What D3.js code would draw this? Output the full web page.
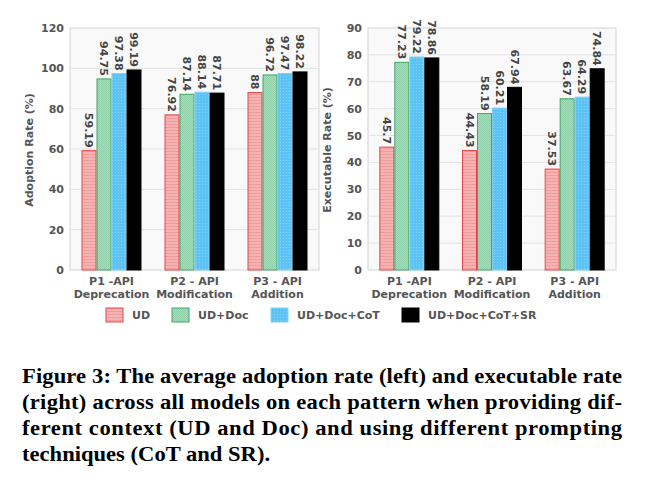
<!DOCTYPE html>
<html>
<head>
<meta charset="utf-8">
<script src="https://cdn.jsdelivr.net/npm/d3@7"></script>
<style>
  body { margin: 0; background: #fff; }
  svg text { font-family: "DejaVu Sans", sans-serif; }
  svg text.cap { font-family: "Liberation Serif", "Times New Roman", serif; }
</style>
</head>
<body>
<div id="chart"></div>
<script>
const width = 645;
const height = 483;

// Data
const categories = [["P1 -API", "Deprecation"], ["P2 - API", "Modification"], ["P3 - API", "Addition"]];
const seriesNames = ["UD", "UD+Doc", "UD+Doc+CoT", "UD+Doc+CoT+SR"];
const adoptionUD = [59.19, 76.92, 88];
const adoptionDoc = [94.75, 87.14, 96.72];
const adoptionCoT = [97.38, 88.14, 97.47];
const adoptionSR = [99.19, 87.71, 98.22];
const execUD = [45.7, 44.43, 37.53];
const execDoc = [77.23, 58.19, 63.67];
const execCoT = [79.22, 60.21, 64.29];
const execSR = [78.86, 67.94, 74.84];
const adoptionTicks = [0, 20, 40, 60, 80, 100, 120];
const execTicks = [0, 10, 20, 30, 40, 50, 60, 70, 80, 90];
const captionLines = [
  "Figure 3: The average adoption rate (left) and executable rate",
  "(right) across all models on each pattern when providing dif-",
  "ferent context (UD and Doc) and using different prompting",
  "techniques (CoT and SR)."
];

const svg = d3.select("#chart")
  .append("svg")
  .attr("width", width)
  .attr("height", height);

// Hatch-like textures for the bars
const defs = svg.append("defs");
const pUD = defs.append("pattern").attr("id", "pUD").attr("patternUnits", "userSpaceOnUse")
  .attr("width", 3).attr("height", 3);
pUD.append("rect").attr("width", 3).attr("height", 3).attr("fill", "#f6b3b3");
pUD.append("rect").attr("width", 3).attr("height", 1).attr("fill", "#ee9c9c");

const pDoc = defs.append("pattern").attr("id", "pDoc").attr("patternUnits", "userSpaceOnUse")
  .attr("width", 2).attr("height", 2);
pDoc.append("rect").attr("width", 2).attr("height", 2).attr("fill", "#a9dbbd");
pDoc.append("rect").attr("width", 1).attr("height", 1).attr("fill", "#8fcea8");
pDoc.append("rect").attr("x", 1).attr("y", 1).attr("width", 1).attr("height", 1).attr("fill", "#8fcea8");

const pCoT = defs.append("pattern").attr("id", "pCoT").attr("patternUnits", "userSpaceOnUse")
  .attr("width", 3).attr("height", 3);
pCoT.append("rect").attr("width", 3).attr("height", 3).attr("fill", "#5cc3f4");
pCoT.append("rect").attr("width", 1).attr("height", 1).attr("fill", "#86d3f8");

const fills = ["url(#pUD)", "url(#pDoc)", "url(#pCoT)", "#000"];
const strokes = ["#e8454b", "#3fa566", "#7fd0f6", "#000"];

function drawPanel(left, top, w, h, ymax, ticks, seriesVals, title) {
  const g = svg.append("g").attr("transform", `translate(${left},${top})`);

  const x0 = d3.scalePoint()
    .domain(d3.range(categories.length))
    .range([0, w])
    .padding(0.5);

  const x1 = d3.scaleBand()
    .domain(seriesNames)
    .range([-30, 30]);

  const y = d3.scaleLinear().domain([0, ymax]).range([h, 0]);

  g.append("rect")
    .attr("width", w).attr("height", h)
    .attr("fill", "#f9f9f9")
    .attr("stroke", "#d4d4d4");

  g.selectAll(".grid")
    .data(ticks.slice(1, -1))
    .enter().append("line")
    .attr("x1", 0).attr("x2", w)
    .attr("y1", d => y(d)).attr("y2", d => y(d))
    .attr("stroke", "#e3e3e3");

  const yAxis = g.append("g")
    .call(d3.axisLeft(y).tickValues(ticks).tickSize(0).tickPadding(6));
  yAxis.select(".domain").remove();
  yAxis.selectAll("text")
    .attr("font-size", 11).attr("font-weight", "bold")
    .attr("fill", "#555").attr("font-family", "DejaVu Sans");

  const xg = g.selectAll(".xlab")
    .data(categories)
    .enter().append("text")
    .attr("text-anchor", "middle")
    .attr("font-size", 11).attr("font-weight", "bold").attr("fill", "#555")
    .attr("transform", (d, i) => `translate(${x0(i)},${h + 15})`);
  xg.append("tspan").attr("x", 0).attr("y", 0).text(d => d[0]);
  xg.append("tspan").attr("x", 0).attr("y", 13).text(d => d[1]);

  const rows = [];
  seriesNames.forEach((s, si) => {
    seriesVals[si].forEach((v, ci) => rows.push({ s, si, ci, v }));
  });

  g.selectAll(".bar")
    .data(rows)
    .enter().append("rect")
    .attr("x", d => x0(d.ci) + x1(d.s) + 0.5)
    .attr("width", x1.bandwidth() - 1)
    .attr("y", d => y(d.v))
    .attr("height", d => y(0) - y(d.v))
    .attr("fill", d => fills[d.si])
    .attr("stroke", d => strokes[d.si])
    .attr("stroke-width", 1);

  g.selectAll(".val")
    .data(rows)
    .enter().append("text")
    .attr("transform", d => `translate(${x0(d.ci) + x1(d.s) + x1.bandwidth() / 2},${y(d.v) - 3}) rotate(90)`)
    .attr("text-anchor", "end")
    .attr("dy", "0.35em")
    .attr("font-size", 11).attr("font-weight", "bold").attr("fill", "#444")
    .text(d => d.v);

  svg.append("text")
    .attr("transform", `translate(${left - 37},${top + h / 2 + 1}) rotate(-90)`)
    .attr("text-anchor", "middle")
    .attr("font-size", 11).attr("font-weight", "bold").attr("fill", "#555")
    .text(title);
}

drawPanel(70, 28, 249, 242, 120, adoptionTicks,
  [adoptionUD, adoptionDoc, adoptionCoT, adoptionSR], "Adoption Rate (%)");
drawPanel(368, 28, 248, 242, 90, execTicks,
  [execUD, execDoc, execCoT, execSR], "Executable Rate (%)");

// Legend
const legendX = [106, 172, 271, 402];
const legend = svg.selectAll(".leg")
  .data(seriesNames)
  .enter().append("g")
  .attr("transform", (d, i) => `translate(${legendX[i]},308)`);
legend.append("rect")
  .attr("width", 17).attr("height", 14)
  .attr("fill", (d, i) => fills[i])
  .attr("stroke", (d, i) => strokes[i]);
legend.append("text")
  .attr("x", 26).attr("y", 7).attr("dy", "0.35em")
  .attr("font-size", 11).attr("font-weight", "bold").attr("fill", "#555")
  .text(d => d);

// Caption: Times-like bold, slightly wide, justified lines
const capY = [383, 409, 435, 461];
const capStretch = 1.13;
svg.selectAll(".cap")
  .data(captionLines)
  .enter().append("text")
  .attr("class", "cap")
  .attr("transform", (d, i) => `translate(22,${capY[i]}) scale(${capStretch},1)`)
  .attr("font-size", 20).attr("font-weight", "bold").attr("fill", "#000")
  .each(function(d, i) {
    if (i < captionLines.length - 1) {
      d3.select(this).attr("textLength", 600 / capStretch).attr("lengthAdjust", "spacing");
    }
  })
  .text(d => d);
</script>
</body>
</html>
